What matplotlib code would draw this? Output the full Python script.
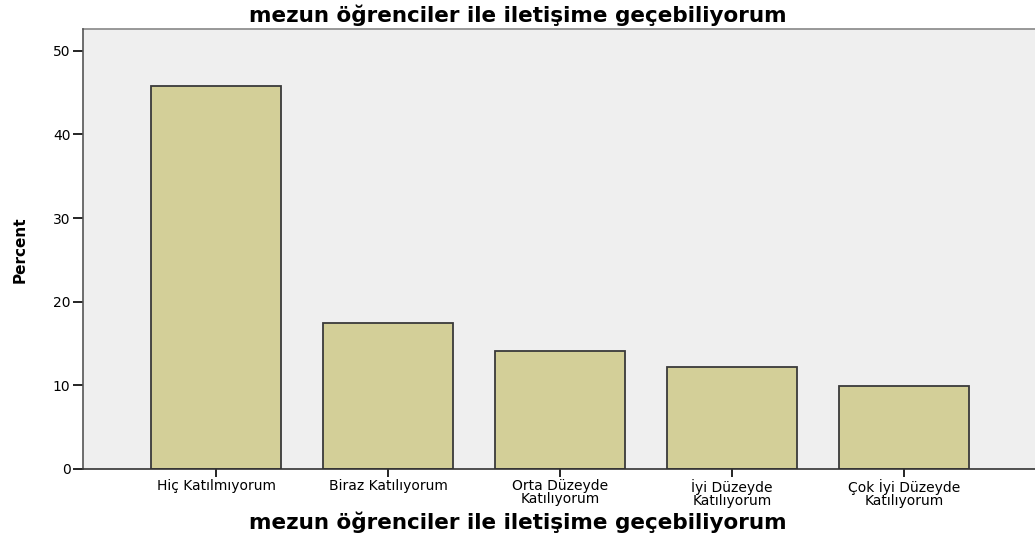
import matplotlib

matplotlib.use("Agg")
import matplotlib.pyplot as plt

categories = ["Hiç Katılmıyorum", "Biraz Katılıyorum", "Orta Düzeyde\nKatılıyorum",
              "İyi Düzeyde\nKatılıyorum", "Çok İyi Düzeyde\nKatılıyorum"]
percent = [45.8, 17.5, 14.1, 12.2, 9.9]
yticks = [0, 10, 20, 30, 40, 50]
title = "mezun öğrenciler ile iletişime geçebiliyorum"

C_BAR = "#D3CF98"; C_BG = "#EFEFEF"; C_EDGE = "#3a3a3a"

fig = plt.figure(figsize=(10.35, 5.39), dpi=100)
ax = fig.add_axes([0.0802, 0.1299, 0.9198, 0.8163])
ax.set_facecolor(C_BG)

x = list(range(len(categories)))
ax.bar(x, percent, width=0.756, color=C_BAR, edgecolor=C_EDGE, linewidth=1.3)
ax.set_xlim(-0.773, 4.76); ax.set_ylim(0, 52.6)
ax.set_yticks(yticks)
ax.set_xticks(x)
ax.set_xticklabels(categories, fontsize=10, linespacing=0.95)
ax.tick_params(axis="y", length=7, width=1.2, labelsize=10, pad=2)
ax.tick_params(axis="x", length=6, width=1.2, pad=1)

for s in ("top", "right"):
    ax.spines[s].set_visible(False)
ax.spines["left"].set_color("#555555"); ax.spines["left"].set_linewidth(1.2)
ax.spines["bottom"].set_color("#333333"); ax.spines["bottom"].set_linewidth(1.2)
ax.plot([0, 1], [1, 1], transform=ax.transAxes, color="#888888", lw=1.2, clip_on=False)

fig.text(0.5, 0.972, title, ha="center", va="center", fontsize=15.5, fontweight="bold")
fig.text(0.5, 0.031, title, ha="center", va="center", fontsize=15.5, fontweight="bold")
fig.text(0.019, 0.536, "Percent", ha="center", va="center", rotation=90,
         fontsize=11, fontweight="bold")

fig.savefig("out.png", dpi=100)
